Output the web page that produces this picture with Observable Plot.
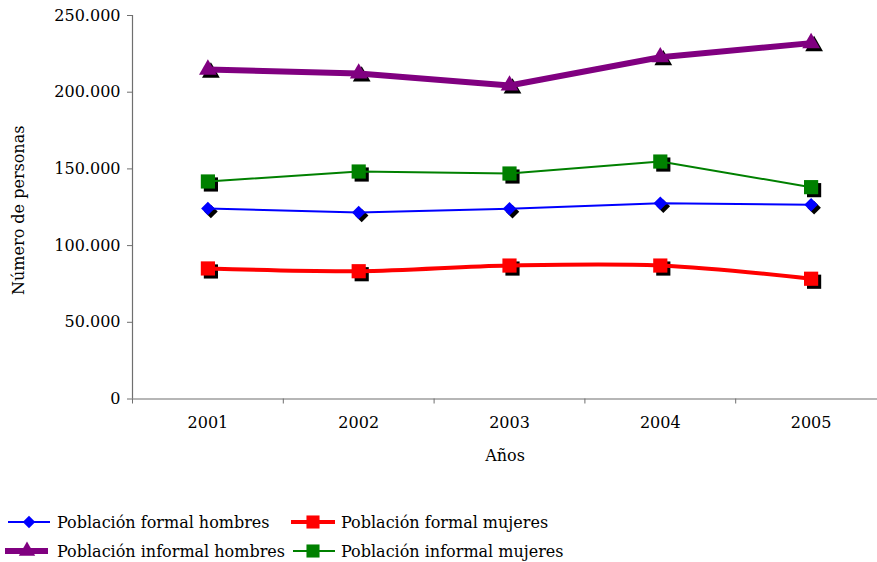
<!DOCTYPE html>
<html>
<head>
<meta charset="utf-8">
<script src="https://cdn.jsdelivr.net/npm/d3@7"></script>
<script src="https://cdn.jsdelivr.net/npm/@observablehq/plot@0.6"></script>
<style>
  html, body { margin: 0; padding: 0; background: #fff; }
  #chart { width: 877px; font-family: "DejaVu Serif", serif; }
  svg { display: block; }
</style>
</head>
<body>
<div id="chart"></div>
<script>
// ---- data ----
const years = [2001, 2002, 2003, 2004, 2005];
const formalHombres   = [124200, 121600, 124000, 127600, 126600];
const formalMujeres   = [85100, 83300, 87000, 87000, 78400];
const informalHombres = [214800, 212200, 204400, 222800, 232000];
const informalMujeres = [141800, 148300, 147000, 154800, 138100];
const seriesNames = ["Población formal hombres", "Población formal mujeres", "Población informal hombres", "Población informal mujeres"];
const yTicks = [0, 50000, 100000, 150000, 200000, 250000];
const xLabel = "Años";
const yLabel = "Número de personas";

// ---- styles ----
const styles = [
  {values: formalHombres,   color: "#0000ff", width: 2, symbol: "square", r: 5.4, rotate: 45, curve: "linear"},
  {values: formalMujeres,   color: "#ff0000", width: 4, symbol: "square", r: 8,   rotate: 0,  curve: "catmull-rom"},
  {values: informalHombres, color: "#800080", width: 6, symbol: "triangle", r: 6.6, rotate: 0, curve: "linear"},
  {values: informalMujeres, color: "#008000", width: 2, symbol: "square", r: 8,   rotate: 0,  curve: "linear"}
];

const locale = d3.formatLocale({decimal: ",", thousands: ".", grouping: [3], currency: ["", ""]});
const fmt = locale.format(",d");
const boundaries = years.map(y => y - 0.5).concat([years[years.length - 1] + 0.5]);
const axisColor = "#6f6f6f";
const FS = "16px";

const marks = [
  Plot.ruleY([0], {stroke: axisColor, strokeWidth: 1.2}),
  Plot.ruleX([boundaries[0]], {y1: 0, y2: yTicks[yTicks.length - 1], stroke: axisColor, strokeWidth: 1.2}),
  Plot.axisY({ticks: yTicks, tickFormat: fmt, tickSize: 5, tickPadding: 7, stroke: axisColor, fill: "#000", label: null}),
  Plot.axisX({ticks: years, tickSize: 0, tickPadding: 18, tickFormat: d => String(d), fill: "#000", label: null}),
  Plot.axisX({ticks: boundaries, tickSize: 5, tickFormat: () => "", stroke: axisColor, label: null}),
  Plot.text([xLabel], {frameAnchor: "bottom", lineAnchor: "middle", textAnchor: "middle", dy: 57, fill: "#000"}),
  Plot.text([yLabel], {frameAnchor: "left", textAnchor: "middle", lineAnchor: "middle", dx: -114, dy: 3, rotate: -90, fill: "#000"})
];

styles.forEach((s, i) => {
  const rows = years.map((y, j) => ({year: y, value: s.values[j], series: seriesNames[i]}));
  marks.push(Plot.dot(rows, {x: "year", y: "value", symbol: s.symbol, r: s.r, rotate: s.rotate, fill: "#000", stroke: "none", dx: 3, dy: 3}));
  marks.push(Plot.line(rows, {x: "year", y: "value", stroke: s.color, strokeWidth: s.width, curve: s.curve}));
  marks.push(Plot.dot(rows, {x: "year", y: "value", symbol: s.symbol, r: s.r, rotate: s.rotate, fill: s.color, stroke: "none"}));
});

const chart = Plot.plot({
  width: 877,
  height: 480,
  marginLeft: 132,
  marginRight: 0,
  marginTop: 15,
  marginBottom: 81.5,
  style: {fontFamily: "DejaVu Serif", fontSize: FS, color: "#000", background: "#fff"},
  x: {domain: [boundaries[0], boundaries[boundaries.length - 1]], range: [132, 886], label: null},
  y: {domain: [yTicks[0], yTicks[yTicks.length - 1]], range: [398.5, 15], label: null},
  marks
});
document.getElementById("chart").appendChild(chart);

// ---- legend ----
const legendPos = [
  {x0: 8, x1: 50, mx: 29, tx: 57, y: 42},
  {x0: 291, x1: 335, mx: 313, tx: 341, y: 42},
  {x0: 5, x1: 48, mx: 27, tx: 57, y: 71},
  {x0: 293, x1: 335, mx: 313, tx: 341, y: 71}
];
const symMap = {square: d3.symbolSquare, triangle: d3.symbolTriangle};
const legend = d3.create("svg").attr("width", 877).attr("height", 82)
  .style("font-family", "DejaVu Serif").style("font-size", FS);
styles.forEach((s, i) => {
  const p = legendPos[i];
  const g = legend.append("g");
  g.append("line").attr("x1", p.x0).attr("x2", p.x1).attr("y1", p.y).attr("y2", p.y)
    .attr("stroke", s.color).attr("stroke-width", s.width);
  g.append("path").attr("d", d3.symbol(symMap[s.symbol], Math.PI * s.r * s.r * 0.85)())
    .attr("transform", `translate(${p.mx},${p.y}) rotate(${s.rotate})`).attr("fill", s.color);
  g.append("text").attr("x", p.tx).attr("y", p.y).attr("dy", "0.35em").attr("fill", "#000").text(seriesNames[i]);
});
document.getElementById("chart").appendChild(legend.node());
</script>
</body>
</html>
